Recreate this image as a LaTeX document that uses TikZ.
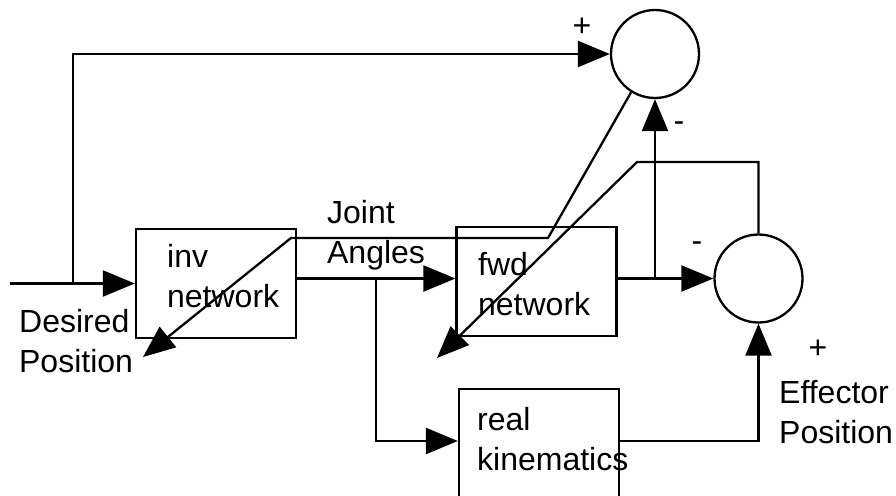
\documentclass[tikz,border=0pt]{standalone}
\usepackage{fontspec}
\setmainfont{Liberation Sans}
\usetikzlibrary{arrows.meta, calc}
\tikzset{
  box/.style   = {draw, rectangle, minimum width=160pt, minimum height=109pt, inner sep=0pt},
  sum/.style   = {draw, circle, minimum size=88pt, inner sep=0pt},
  arrow/.style = {-{Triangle[length=32pt, width=26pt]}},
  txt/.style   = {anchor=base west, align=left, inner sep=0pt},
  sign/.style  = {anchor=base, inner sep=0pt},
}
\begin{document}
\begin{tikzpicture}[x=1pt, y=-1pt, line width=2.3pt,
    every node/.style={font=\fontsize{32}{39.5}\selectfont}]
  \useasboundingbox (0,0) rectangle (896,495);
  % blocks and summing junctions
  \node[box] (inv) at (216,283.5) {};
  \node[box] (fwd) at (536.5,281.5) {};
  \node[box, minimum height=111pt] (real) at (539,444.5) {};
  \node[sum] (sum1) at (655,54) {};
  \node[sum] (sum2) at (758.5,278.5) {};
  % texts (base = last line)
  \node[txt] (invtxt) at (166,307) {inv\\network};
  \node[txt] (fwdtxt) at (477,315) {fwd\\network};
  \node[txt] (realtxt) at (476,470) {real\\kinematics};
  \node[txt] (jang) at (326,263) {Joint\\Angles};
  \node[txt] (despos) at (18,372) {Desired\\Position};
  \node[txt] (effpos) at (778,443) {Effector\\Position};
  \foreach \s/\x/\y [count=\k] in {+/582/37, -/679/131, -/697/251, +/818/358} {
    \node[sign] (sign\k) at (\x,\y) {\s};
  }
  % signal paths
  \coordinate (in) at (10,283.5);
  \coordinate (tap) at (73,283.5);
  \coordinate (split) at (376,278.5);
  \coordinate (tap2) at (sum1 |- sum2);
  \draw[arrow] (in) -- (inv);
  \draw[arrow] (tap) |- (sum1);
  \draw[arrow] (inv.east |- sum2) -- (fwd.west |- sum2);
  \draw[arrow] (split) |- ([yshift=3.5pt]real.west);
  \draw[arrow] (fwd.east |- sum2) -- (sum2);
  \draw[arrow] (tap2) -- (sum1);
  \draw[arrow] ([yshift=3.5pt]real.east) -| (sum2.south);
  % error feedback
  \coordinate (e1a) at (548,238);
  \coordinate (e1b) at (291,238);
  \coordinate (e1c) at (143,357);
  \draw[arrow] (sum1.-122) -- (e1a) -- (e1b) -- (e1c);
  \coordinate (e2a) at (637,162);
  \coordinate (e2b) at (437,358);
  \draw[arrow] (sum2.north) |- (e2a) -- (e2b);
\end{tikzpicture}
\end{document}
